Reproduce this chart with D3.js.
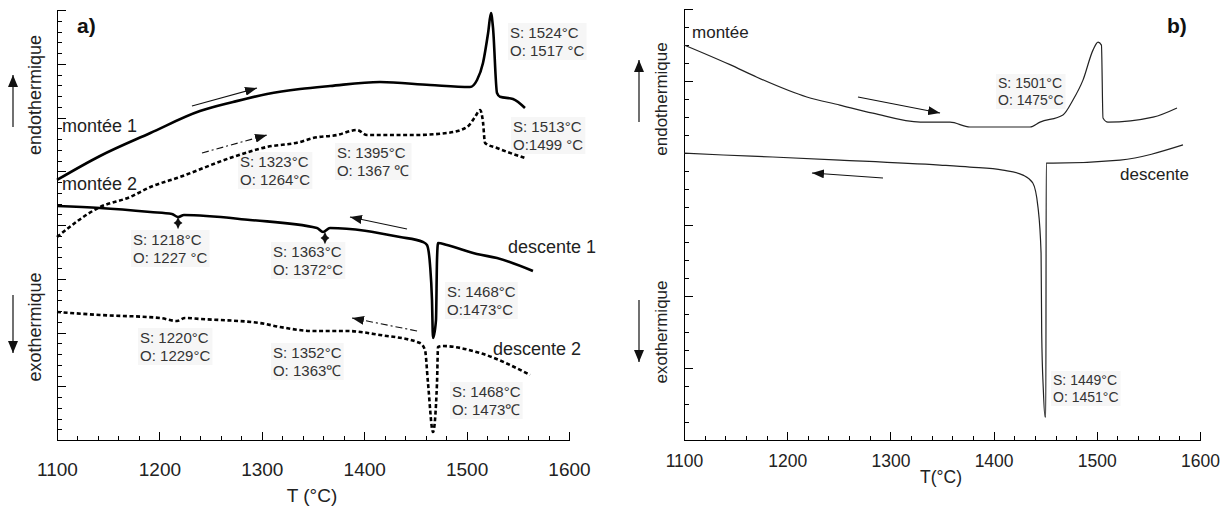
<!DOCTYPE html>
<html><head><meta charset="utf-8">
<script src="https://cdn.jsdelivr.net/npm/d3@7"></script>
<style>
body{margin:0;background:#fff}
svg{display:block}
text{font-family:"Liberation Sans",Arial,sans-serif}
</style></head>
<body><svg id="c" width="1227" height="507"></svg>
<script>
// ---------------- DATA ----------------
// x: temperature (°C); y: heat flow, arbitrary units
const xTicks = [1100, 1200, 1300, 1400, 1500, 1600];
const xTickLabels = ["1100", "1200", "1300", "1400", "1500", "1600"];
const xMinorTicks = [1100,1120,1140,1160,1180,1200,1220,1240,1260,1280,1300,1320,1340,1360,1380,1400,1420,1440,1460,1480,1500,1520,1540,1560,1580,1600];

// panel a)
const aMontee1 = [[1100,24.19],[1142,26.42],[1191.2,28.56],[1239.6,30.6],[1271.9,31.44],[1305.1,32.19],[1337.3,32.65],[1366.6,32.93],[1415.4,33.3],[1464.3,33.02],[1503.3,32.84],[1510.2,33.49],[1516,35.07],[1521,37.86],[1523.8,39.72],[1525.8,38.33],[1529.7,32.28],[1532.6,31.93],[1545.3,31.72],[1557,30.88]];
const aMontee2 = [[1100,18.88],[1142,21.67],[1171.3,22.6],[1191.2,23.53],[1220.1,24.47],[1271.9,26.33],[1305.1,27.26],[1337.3,27.72],[1350,28.09],[1373.4,28.37],[1393,28.84],[1402.7,28.37],[1447.7,28.37],[1480.9,28.56],[1500.4,29.12],[1508.2,30.05],[1513.1,30.7],[1516,29.58],[1518,27.63],[1529.7,27.16],[1557,26.23]];
const aDescente1 = [[1100,21.77],[1142,21.58],[1191.2,21.21],[1212.3,21.02],[1218.2,20.74],[1224,20.93],[1288.5,20.47],[1353.9,19.72],[1359.8,19.35],[1366.6,19.72],[1435,18.88],[1457.4,18.42],[1461.3,18.14],[1464.3,16.28],[1466.2,13.02],[1467.2,9.49],[1470.1,11.16],[1471.1,16.74],[1472.1,18.33],[1480.9,18.14],[1510,17.3],[1529.7,16.93],[1564.8,15.72]];
const aDescente2 = [[1100,11.91],[1142,11.63],[1200.6,11.35],[1217.2,11.07],[1225,11.35],[1239.6,11.26],[1298.2,10.88],[1317.8,10.51],[1350,10.14],[1383.2,10.14],[1415.4,9.77],[1454.5,9.02],[1459.4,8.37],[1462.3,5.3],[1467.2,0.74],[1471.1,5.3],[1472.1,8.65],[1477,8.74],[1513.1,8.09],[1562,6.05]];
const aEventMarks = [[1218.2,20.19],[1361.7,18.79]];
const aArrows = [
  {from:[1231.8,31.07], to:[1295.3,32.74], dashed:false},
  {from:[1241.6,26.7], to:[1305.1,28.37], dashed:true},
  {from:[1441.8,19.63], to:[1386.1,20.74], dashed:false},
  {from:[1451.6,10.14], to:[1388.1,11.35], dashed:true}
];
const aCurveLabels = [
  {text:"montée 1", at:[1104.9,28.65]},
  {text:"montée 2", at:[1104.9,23.26]},
  {text:"descente 1", at:[1540.4,17.4]},
  {text:"descente 2", at:[1525.8,7.91]}
];
const aNotes = [
  {lines:["S: 1524°C","O: 1517 °C"], at:[1542.4,37.4]},
  {lines:["S: 1513°C","O:1499 °C"], at:[1545.3,28.65]},
  {lines:["S: 1323°C","O: 1264°C"], at:[1278.7,25.4]},
  {lines:["S: 1395°C","O: 1367 ℃"], at:[1373.4,26.23]},
  {lines:["S: 1218°C","O: 1227 °C"], at:[1174.2,18.14]},
  {lines:["S: 1363°C","O: 1372°C"], at:[1310.9,17.02]},
  {lines:["S: 1468°C","O:1473°C"], at:[1480.9,13.3]},
  {lines:["S: 1220°C","O: 1229°C"], at:[1181.1,9.02]},
  {lines:["S: 1352°C","O: 1363℃"], at:[1310.9,7.63]},
  {lines:["S: 1468°C","O: 1473℃"], at:[1485.7,4.0]}
];

// panel b)
const bMontee = [[1100,22.0],[1144.6,20.9],[1170.7,20.2],[1219,19.1],[1251,18.65],[1283,18.2],[1329,17.7],[1357.8,17.7],[1377.1,17.43],[1435.3,17.43],[1445,17.7],[1467.2,18.1],[1476.9,18.93],[1486.6,20.04],[1496.3,21.71],[1501.2,22.16],[1504.5,21.99],[1506,17.93],[1510.8,17.7],[1554.5,17.98],[1577.7,18.49]];
const bDescente = [[1100,15.98],[1138,15.87],[1186,15.76],[1251,15.59],[1348,15.31],[1377,15.2],[1409,15.03],[1428.5,14.75],[1438,14.31],[1443,12.97],[1446,10.41],[1446.6,5.96],[1448.2,2.78],[1449.8,1.28],[1450.6,1.28],[1451,15.42],[1457.6,15.42],[1522.5,15.59],[1583.5,16.43]];
const bArrows = [
  {from:[1268.6,19.1], to:[1348.1,18.21]},
  {from:[1292.8,14.59], to:[1224,14.87]}
];
const bCurveLabels = [
  {text:"montée", at:[1107.8,22.38]},
  {text:"descente", at:[1522.5,14.48]}
];
const bNotes = [
  {lines:["S: 1501°C","O: 1475°C"], at:[1404.3,19.6]},
  {lines:["S: 1449°C","O: 1451°C"], at:[1457.6,3.06]}
];

// ---------------- DRAWING ----------------
const svg = d3.select("#c");
const defs = svg.append("defs");
function arrowMarker(id, len, wid, color){
  defs.append("marker").attr("id", id).attr("markerUnits","userSpaceOnUse")
    .attr("markerWidth", len).attr("markerHeight", wid)
    .attr("refX", len).attr("refY", wid/2).attr("orient","auto")
    .append("path").attr("d", `M0,0L${len},${wid/2}L0,${wid}Z`).attr("fill", color);
}
arrowMarker("ah", 12, 9, "#111");
arrowMarker("ahBig", 12, 10, "#111");

const star4 = {draw(ctx, size){
  const r = Math.sqrt(size), w = r*0.3;
  ctx.moveTo(0,-r); ctx.lineTo(w,-w); ctx.lineTo(r*0.7,0); ctx.lineTo(w,w);
  ctx.lineTo(0,r); ctx.lineTo(-w,w); ctx.lineTo(-r*0.7,0); ctx.lineTo(-w,-w); ctx.closePath();
}};

function panel(cfg){
  const g = svg.append("g");
  const x = d3.scaleLinear().domain([1100,1600]).range(cfg.xr);
  const y = d3.scaleLinear().domain([0,cfg.ymax]).range([440,cfg.ytop]);

  g.append("g").attr("transform","translate(0,440)")
    .call(d3.axisBottom(x).tickValues(xMinorTicks).tickSizeInner(-4).tickSizeOuter(0).tickFormat(""));
  const xa = g.append("g").attr("transform","translate(0,440)")
    .call(d3.axisBottom(x).tickValues(xTicks).tickSizeInner(-8).tickSizeOuter(0)
      .tickPadding(cfg.tickPad).tickFormat((d,i)=>xTickLabels[i]));
  xa.selectAll("text").attr("font-size", cfg.tickFont).attr("fill","#222")
    .attr("font-family","Liberation Sans, Arial, sans-serif");
  const yMinor = d3.range(0, cfg.ymax+0.001, 1);
  const yMajor = d3.range(0, cfg.ymax+0.001, cfg.ymajor);
  g.append("g").attr("transform",`translate(${cfg.xr[0]},0)`)
    .call(d3.axisRight(y).tickValues(yMinor).tickSize(5).tickSizeOuter(0).tickFormat(""));
  g.append("g").attr("transform",`translate(${cfg.xr[0]},0)`)
    .call(d3.axisRight(y).tickValues(yMajor).tickSize(9).tickSizeOuter(0).tickFormat(""));
  g.selectAll(".domain, .tick line").attr("stroke","#000").attr("shape-rendering","crispEdges");

  g.append("text").attr("x", cfg.titleX).attr("y", cfg.titleY).attr("text-anchor","middle")
    .attr("font-size", cfg.tickFont).attr("fill","#222").text(cfg.title);

  g.append("text").attr("transform",`translate(${cfg.ylabX},${cfg.endoY}) rotate(-90)`)
    .attr("text-anchor","middle").attr("font-size", cfg.ylabFont).attr("fill","#222").text("endothermique");
  g.append("text").attr("transform",`translate(${cfg.ylabX},${cfg.exoY}) rotate(-90)`)
    .attr("text-anchor","middle").attr("font-size", cfg.ylabFont).attr("fill","#222").text("exothermique");
  g.append("line").attr("x1",cfg.arrX).attr("x2",cfg.arrX).attr("y1",cfg.upArr[0]).attr("y2",cfg.upArr[1])
    .attr("stroke","#111").attr("stroke-width",1.2).attr("marker-end","url(#ahBig)");
  g.append("line").attr("x1",cfg.arrX).attr("x2",cfg.arrX).attr("y1",cfg.downArr[0]).attr("y2",cfg.downArr[1])
    .attr("stroke","#111").attr("stroke-width",1.2).attr("marker-end","url(#ahBig)");

  g.append("text").attr("x", cfg.letterX).attr("y", 33).attr("font-size", 21).attr("font-weight","bold")
    .attr("fill","#111").text(cfg.letter);

  const line = d3.line().curve(d3.curveMonotoneX).x(d=>x(d[0])).y(d=>y(d[1]));
  return {g, x, y, line};
}

const A = panel({xr:[57,569], ymax:40, ytop:10, ymajor:5, tickPad:23, tickFont:19,
  title:"T (°C)", titleX:312, titleY:502, ylabX:41, endoY:95, exoY:327, ylabFont:18,
  arrX:13, upArr:[127,75], downArr:[295,353], letter:"a)", letterX:77});

function notes(P, list, font, gap){
  list.forEach(n=>{
    const ng = P.g.append("g");
    const t = ng.append("text").attr("x", P.x(n.at[0])).attr("y", P.y(n.at[1]))
      .attr("font-size", font).attr("fill","#333");
    n.lines.forEach((s,i)=>t.append("tspan").attr("x", P.x(n.at[0])).attr("dy", i===0?0:gap).text(s));
    const bb = t.node().getBBox();
    ng.insert("rect","text").attr("x",bb.x-2).attr("y",bb.y-1).attr("width",bb.width+4).attr("height",bb.height+2)
      .attr("fill","#f6f6f6");
  });
}
notes(A, aNotes, 15, 18);

A.g.append("path").datum(aMontee1).attr("d",A.line).attr("fill","none").attr("stroke","#000").attr("stroke-width",2.6).attr("stroke-linejoin","round");
A.g.append("path").datum(aDescente1).attr("d",A.line).attr("fill","none").attr("stroke","#000").attr("stroke-width",2.6).attr("stroke-linejoin","round");
A.g.append("path").datum(aMontee2).attr("d",A.line).attr("fill","none").attr("stroke","#000").attr("stroke-width",2.6).attr("stroke-dasharray","4,2.6");
A.g.append("path").datum(aDescente2).attr("d",A.line).attr("fill","none").attr("stroke","#000").attr("stroke-width",2.6).attr("stroke-dasharray","4,2.6");

A.g.selectAll(".mk").data(aEventMarks).join("path").attr("class","mk")
  .attr("transform",d=>`translate(${A.x(d[0])},${A.y(d[1])})`)
  .attr("d", d3.symbol().type(star4).size(40)).attr("fill","#111");

A.g.selectAll(".arw").data(aArrows).join("line").attr("class","arw")
  .attr("x1",d=>A.x(d.from[0])).attr("y1",d=>A.y(d.from[1]))
  .attr("x2",d=>A.x(d.to[0])).attr("y2",d=>A.y(d.to[1]))
  .attr("stroke","#111").attr("stroke-width",1.1)
  .attr("stroke-dasharray",d=>d.dashed?"7,3,2,3":null).attr("marker-end","url(#ah)");

A.g.selectAll(".cl").data(aCurveLabels).join("text").attr("class","cl")
  .attr("x",d=>A.x(d.at[0])).attr("y",d=>A.y(d.at[1])).attr("font-size",18).attr("fill","#222").text(d=>d.text);

const B = panel({xr:[684,1200], ymax:24, ytop:9, ymajor:4, tickPad:15, tickFont:17.5,
  title:"T(°C)", titleX:941, titleY:483, ylabX:667, endoY:99, exoY:332, ylabFont:17,
  arrX:639, upArr:[122,60], downArr:[300,362], letter:"b)", letterX:1167});

notes(B, bNotes, 14, 17);
B.g.append("path").datum(bMontee).attr("d",B.line).attr("fill","none").attr("stroke","#222").attr("stroke-width",1.2);
B.g.append("path").datum(bDescente).attr("d",B.line).attr("fill","none").attr("stroke","#222").attr("stroke-width",1.2);
B.g.selectAll(".arw").data(bArrows).join("line").attr("class","arw")
  .attr("x1",d=>B.x(d.from[0])).attr("y1",d=>B.y(d.from[1]))
  .attr("x2",d=>B.x(d.to[0])).attr("y2",d=>B.y(d.to[1]))
  .attr("stroke","#111").attr("stroke-width",1.1).attr("marker-end","url(#ah)");
B.g.selectAll(".cl").data(bCurveLabels).join("text").attr("class","cl")
  .attr("x",d=>B.x(d.at[0])).attr("y",d=>B.y(d.at[1])).attr("font-size",17).attr("fill","#222").text(d=>d.text);
</script></body></html>
